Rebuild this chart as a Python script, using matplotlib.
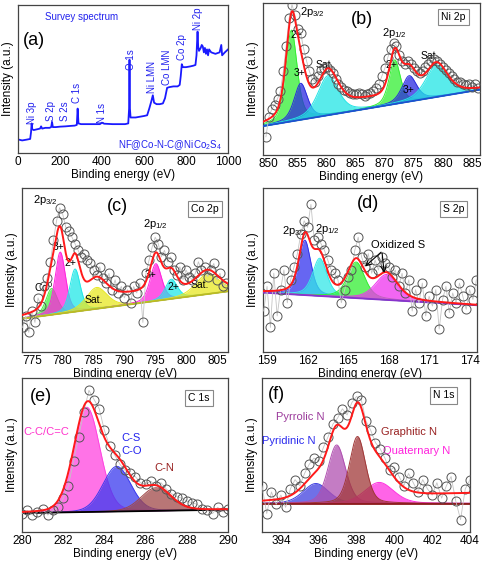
import numpy as np
import matplotlib.pyplot as plt

plt.rcParams['font.family'] = ['Liberation Sans', 'DejaVu Sans']
plt.rcParams['mathtext.fontset'] = 'custom'
plt.rcParams['mathtext.rm'] = 'Liberation Sans'
plt.rcParams['mathtext.it'] = 'Liberation Sans:italic'
plt.rcParams['axes.edgecolor'] = '#444444'
plt.rcParams['axes.linewidth'] = 0.9

# (a) survey spectrum, intensity in % of the axis height
survey_ev = [5, 20, 40, 58, 62, 65, 68, 75, 90, 105, 110, 115, 130, 150, 158, 162, 166, 180, 200, 225,
             250, 270, 280, 284, 288, 300, 330, 360, 390, 400, 410, 450, 480, 510, 525, 529, 531, 533, 536, 560,
             580, 600, 615, 625, 635, 642, 648, 660, 675, 690, 700, 710, 720, 740, 760, 770, 775, 780, 785, 800,
             820, 835, 845, 850, 855, 858, 862, 870, 875, 880, 885, 890, 895, 900, 905, 910, 920, 940, 960, 968,
             972, 985, 1000]
survey_int = [9, 8.5, 9, 9.5, 14, 20, 16, 15.5, 16, 16.5, 18, 16.5, 17, 17, 17.5, 21, 17.5, 17.5, 17.8, 18,
              18.3, 18.5, 19, 30, 20, 19.5, 19.5, 19.5, 19.5, 20.5, 19.8, 19.5, 19.5, 19.5, 20, 30, 63, 30, 24, 24,
              24.5, 25, 25.5, 30, 35, 39, 34, 33, 33, 33.5, 37, 44, 44.5, 45, 45, 46, 52, 60, 58, 58,
              58.5, 59, 59.5, 66, 82, 72, 69, 71, 73, 72, 68, 71, 67, 70, 66, 70, 68, 67, 68, 73,
              66, 68, 70]
survey_names = ['Ni 3p', 'S 2p', 'S 2s', 'C 1s', 'N 1s', 'O 1s', 'Ni LMN', 'Co LMN', 'Co 2p', 'Ni 2p']
survey_name_ev = [66, 155, 222, 280, 398, 540, 638, 711, 782, 857]
survey_name_y = [19.8, 21.3, 21.3, 33.7, 20.2, 56, 40.4, 46, 63, 83]

# (b) Ni 2p
ni_ev = np.arange(849.5, 886.01, 0.5)
ni_int = [12, 25, 30, 33, 37, 42, 55, 72, 90, 99,
          92, 83, 80, 70, 62, 55, 50, 48, 52, 56,
          57, 58, 56, 54, 50, 47, 45, 43, 42, 41,
          40, 40, 41, 40, 39, 40, 41, 42, 44, 47,
          52, 57, 64, 70, 74, 72, 66, 62, 60, 62,
          60, 57, 55, 54, 55, 58, 60, 62, 63, 62,
          60, 58, 56, 54, 52, 50, 48, 48, 47, 46,
          47, 45, 47, 44]
ni_base = [19, 43]
ni_center = [853.9, 855.5, 860.2, 871.7, 874.2, 878.9]
ni_height = [60, 24, 26, 29, 17, 21]
ni_fwhm = [2.3, 2.7, 4.2, 2.3, 3.0, 4.5]
ni_extra = ([866.0], [5.0], [12.0])

# (c) Co 2p
co_ev = np.arange(773.5, 806.51, 0.5)
co_int = [15, 22, 12, 25, 18, 33, 28, 40, 45, 55,
          68, 80, 88, 84, 76, 74, 70, 66, 62, 58,
          60, 56, 54, 50, 47, 52, 45, 42, 48, 38,
          44, 36, 40, 33, 38, 30, 40, 36, 42, 18,
          48, 56, 64, 70, 66, 58, 62, 55, 58, 50,
          47, 52, 44, 50, 46, 44, 48, 55, 50, 52,
          46, 50, 54, 44, 48, 40, 42]
co_base = [20.3, 37]
co_center = [778.2, 779.6, 782.0, 785.5, 795.1, 797.6, 803.5]
co_height = [16, 37.5, 26, 13, 22.7, 12, 12.4]
co_fwhm = [2.2, 2.0, 2.0, 4.0, 2.2, 2.3, 4.5]
co_extra = ([779.5, 790.5], [5.0, 6.0], [2.5, 20.0])

# (d) S 2p
s_ev = np.arange(158.75, 174.51, 0.25)
s_int = [25, 40, 15, 48, 22, 38, 50, 30, 44, 52,
         60, 72, 80, 76, 90, 68, 70, 66, 62, 56,
         50, 48, 44, 30, 38, 46, 50, 62, 70, 58,
         52, 60, 48, 56, 50, 58, 54, 52, 46, 50,
         40, 48, 36, 44, 25, 38, 30, 42, 22, 34,
         28, 38, 14, 32, 40, 24, 36, 30, 42, 34,
         26, 38, 32, 44]
s_base = [36.2, 28.5]
s_center = [161.8, 162.9, 165.6, 167.85]
s_height = [33.5, 23, 22, 15.5]
s_fwhm = [1.05, 1.25, 1.5, 2.0]

# (e) C 1s
c_ev = np.arange(280.0, 290.01, 0.25)
c_int = [12, 14, 11, 13, 15, 11, 14, 16, 22, 30,
         46, 62, 78, 92, 86, 80, 66, 56, 50, 44,
         40, 38, 36, 32, 31, 33, 30, 32, 28, 25,
         23, 22, 20, 19, 18, 15, 14, 12, 16, 13,
         15]
c_base = [12.3, 14.5]
c_center = [283.15, 284.6, 286.5]
c_height = [68, 29.3, 15]
c_fwhm = [1.5, 1.6, 1.7]

# (f) N 1s
n_ev = np.arange(393.0, 404.01, 0.25)
n_int = [30, 12, 26, 18, 24, 16, 28, 34, 30, 38,
         44, 48, 46, 55, 62, 70, 74, 80, 76, 84,
         88, 86, 72, 66, 58, 54, 48, 40, 42, 36,
         30, 38, 32, 26, 34, 28, 24, 32, 22, 30,
         36, 20, 8, 28, 34]
n_base = [18.5, 18.5]
n_env_base = [19.5, 25]
n_center = [395.85, 396.95, 399.2, 398.05]
n_height = [13, 38, 13.7, 43.5]
n_fwhm = [1.6, 1.1, 1.8, 1.0]
n_extra = ([398.6], [12.0], [2.0])


def pv(x, c, h, w, eta):
    g = np.exp(-4 * np.log(2) * ((x - c) / w) ** 2)
    l = 1 / (1 + 4 * ((x - c) / w) ** 2)
    return h * ((1 - eta) * g + eta * l)


def setup(ax, xlim, xticks, box=None, box_xy=None):
    ax.set_xlim(xlim)
    ax.set_ylim(0, 100)
    ax.set_xticks(xticks)
    ax.set_yticks([])
    ax.tick_params(axis='x', length=0, labelsize=8.5, pad=2)
    ax.set_xlabel('Binding energy (eV)', fontsize=8.5, labelpad=1)
    ax.set_ylabel('Intensity (a.u.)', fontsize=8.5, labelpad=3)
    if box:
        ax.text(box_xy[0], box_xy[1], box, ha='center', va='center', fontsize=7.5,
                bbox=dict(boxstyle='square,pad=0.3', fc='white', ec='#888888', lw=0.8))


def fit(ax, xlim, ev, inten, base, centers, heights, fwhms, colors, eta, base_color,
        extra=None, env_base=None):
    xf = np.linspace(xlim[0], xlim[1], 800)
    bl = np.interp(xf, xlim, base)
    total = np.zeros_like(xf)
    for c, h, w, col in zip(centers, heights, fwhms, colors):
        p = pv(xf, c, h, w, eta)
        total += p
        ax.fill_between(xf, bl, bl + p, color=col, alpha=0.75, lw=0, zorder=2)
        ax.plot(xf, bl + p, color=col, lw=0.7, zorder=2)
    if extra:
        for c, h, w in zip(*extra):
            total += pv(xf, c, h, w, eta)
    ax.plot(xf, bl, color=base_color, lw=1.3, zorder=3)
    ax.plot(ev, inten, '-', color='#c4c4c4', lw=0.6, zorder=3)
    ax.plot(ev, inten, 'o', mfc='none', mec='#555555', mew=0.7, ms=6.5, zorder=4)
    eb = bl if env_base is None else np.interp(xf, xlim, env_base)
    ax.plot(xf, eb + total, color='#ff1a1a', lw=1.4, zorder=5)


fig = plt.figure(figsize=(4.83, 5.66), dpi=100)
W, H = 483, 566


def add_axes(l, t, r, b):
    return fig.add_axes([l / W, 1 - b / H, (r - l) / W, (b - t) / H])


# (a)
ax = add_axes(18, 5, 228, 153)
setup(ax, (0, 1000), [0, 200, 400, 600, 800, 1000])
ax.plot(survey_ev, survey_int, color='#1a1aff', lw=1.3)
for name, x, y in zip(survey_names, survey_name_ev, survey_name_y):
    ax.text(x, y, name, rotation=90, ha='center', va='bottom', fontsize=7, color='#2222ee')
ax.text(305, 92, 'Survey spectrum', ha='center', va='center', fontsize=7, color='#2222ee')
ax.text(970, 5.6, 'NF@Co-N-C@NiCo$_2$S$_4$', ha='right', va='center', fontsize=7, color='#2222ee')
ax.text(24, 76, '(a)', ha='left', va='center', fontsize=13)

# (b)
ax = add_axes(263, 3, 480, 155)
xl = (849.0, 886.4)
setup(ax, xl, [850, 855, 860, 865, 870, 875, 880, 885], 'Ni 2p', (881.8, 91))
fit(ax, xl, ni_ev, ni_int, ni_base, ni_center, ni_height, ni_fwhm,
    ['#33ee33', '#2a2ae0', '#22e5e5', '#33ee33', '#2a2ae0', '#22e5e5'], 0.5, '#1f4fd0', ni_extra)
ax.text(855.3, 94, '2p$_{3/2}$', ha='left', va='center', fontsize=8)
ax.text(866, 89, '(b)', ha='center', va='center', fontsize=13)
ax.text(854.8, 79, '2+', ha='center', va='center', fontsize=7.5)
ax.text(855.3, 54, '3+', ha='center', va='center', fontsize=7.5)
ax.text(859.6, 59, 'Sat.', ha='center', va='center', fontsize=7.5)
ax.text(871.7, 80, '2p$_{1/2}$', ha='center', va='center', fontsize=8)
ax.text(871.2, 59, '2+', ha='center', va='center', fontsize=7.5)
ax.text(874.0, 43, '3+', ha='center', va='center', fontsize=7.5)
ax.text(877.8, 65, 'Sat.', ha='center', va='center', fontsize=7.5)

# (c)
ax = add_axes(22, 188, 228, 352)
xl = (773.4, 806.8)
setup(ax, xl, [775, 780, 785, 790, 795, 800, 805], 'Co 2p', (803.1, 87))
fit(ax, xl, co_ev, co_int, co_base, co_center, co_height, co_fwhm,
    ['#44ee44', '#ff22dd', '#22e8e8', '#e8e822', '#ff22dd', '#22e8e8', '#e8e822'], 0.4, '#bbbb22', co_extra)
ax.text(777.2, 92.5, '2p$_{3/2}$', ha='center', va='center', fontsize=8)
ax.text(788.8, 89, '(c)', ha='center', va='center', fontsize=13)
ax.text(779.3, 64, '3+', ha='center', va='center', fontsize=7.5)
ax.text(781.2, 54, '2+', ha='center', va='center', fontsize=7.5)
ax.text(776.9, 39.6, 'Co$^0$', ha='center', va='center', fontsize=7.5)
ax.text(785, 31.5, 'Sat.', ha='center', va='center', fontsize=7.5)
ax.text(795, 78, '2p$_{1/2}$', ha='center', va='center', fontsize=8)
ax.text(794.3, 47, '3+', ha='center', va='center', fontsize=7.5)
ax.text(798, 39.6, '2+', ha='center', va='center', fontsize=7.5)
ax.text(802.2, 41, 'Sat.', ha='center', va='center', fontsize=7.5)

# (d)
ax = add_axes(263, 188, 477, 352)
xl = (158.7, 174.55)
setup(ax, xl, [159, 162, 165, 168, 171, 174], 'S 2p', (172.8, 87))
fit(ax, xl, s_ev, s_int, s_base, s_center, s_height, s_fwhm,
    ['#3333ee', '#33e8e8', '#33ee33', '#ee33ee'], 0.5, '#8833cc')
ax.text(161.0, 74, '2p$_{3/2}$', ha='center', va='center', fontsize=8)
ax.text(163.5, 75, '2p$_{1/2}$', ha='center', va='center', fontsize=8)
ax.text(166.5, 90.4, '(d)', ha='center', va='center', fontsize=13)
ax.text(168.7, 65, 'Oxidized S', ha='center', va='center', fontsize=8)
ax.annotate('', xy=(166.1, 51), xytext=(167.6, 62), zorder=6,
            arrowprops=dict(arrowstyle='->', lw=0.8, color='black'))
ax.annotate('', xy=(167.7, 46.5), xytext=(167.5, 62), zorder=6,
            arrowprops=dict(arrowstyle='->', lw=0.8, color='black'))

# (e)
ax = add_axes(22, 378, 228, 532)
xl = (280, 290)
setup(ax, xl, [280, 282, 284, 286, 288, 290], 'C 1s', (288.6, 87))
fit(ax, xl, c_ev, c_int, c_base, c_center, c_height, c_fwhm,
    ['#ff44e0', '#3a3aee', '#a04848'], 0.15, 'black')
ax.text(280.4, 88, '(e)', ha='left', va='center', fontsize=13)
ax.text(281.2, 65, 'C-C/C=C', ha='center', va='center', fontsize=8, color='#ff33cc')
ax.text(285.3, 61, 'C-S', ha='center', va='center', fontsize=8, color='#2222ee')
ax.text(285.3, 52.4, 'C-O', ha='center', va='center', fontsize=8, color='#2222ee')
ax.text(286.9, 41.6, 'C-N', ha='center', va='center', fontsize=8, color='#992222')

# (f)
ax = add_axes(262, 378, 470, 532)
xl = (393.0, 404.0)
setup(ax, xl, [394, 396, 398, 400, 402, 404], 'N 1s', (402.6, 88.7))
fit(ax, xl, n_ev, n_int, n_base, n_center, n_height, n_fwhm,
    ['#4040e0', '#b050b0', '#ff30e0', '#a03838'], 0.3, '#8b1a1a', n_extra, n_env_base)
ax.text(393.3, 89, '(f)', ha='left', va='center', fontsize=13)
ax.text(395.0, 75, 'Pyrrolic N', ha='center', va='center', fontsize=8, color='#9b3a9b')
ax.text(394.4, 59, 'Pyridinic N', ha='center', va='center', fontsize=8, color='#2a2aee')
ax.text(400.8, 64.8, 'Graphitic N', ha='center', va='center', fontsize=8, color='#992222')
ax.text(401.2, 52.6, 'Quaternary N', ha='center', va='center', fontsize=8, color='#ff22dd')

fig.savefig('out.png', dpi=100)
